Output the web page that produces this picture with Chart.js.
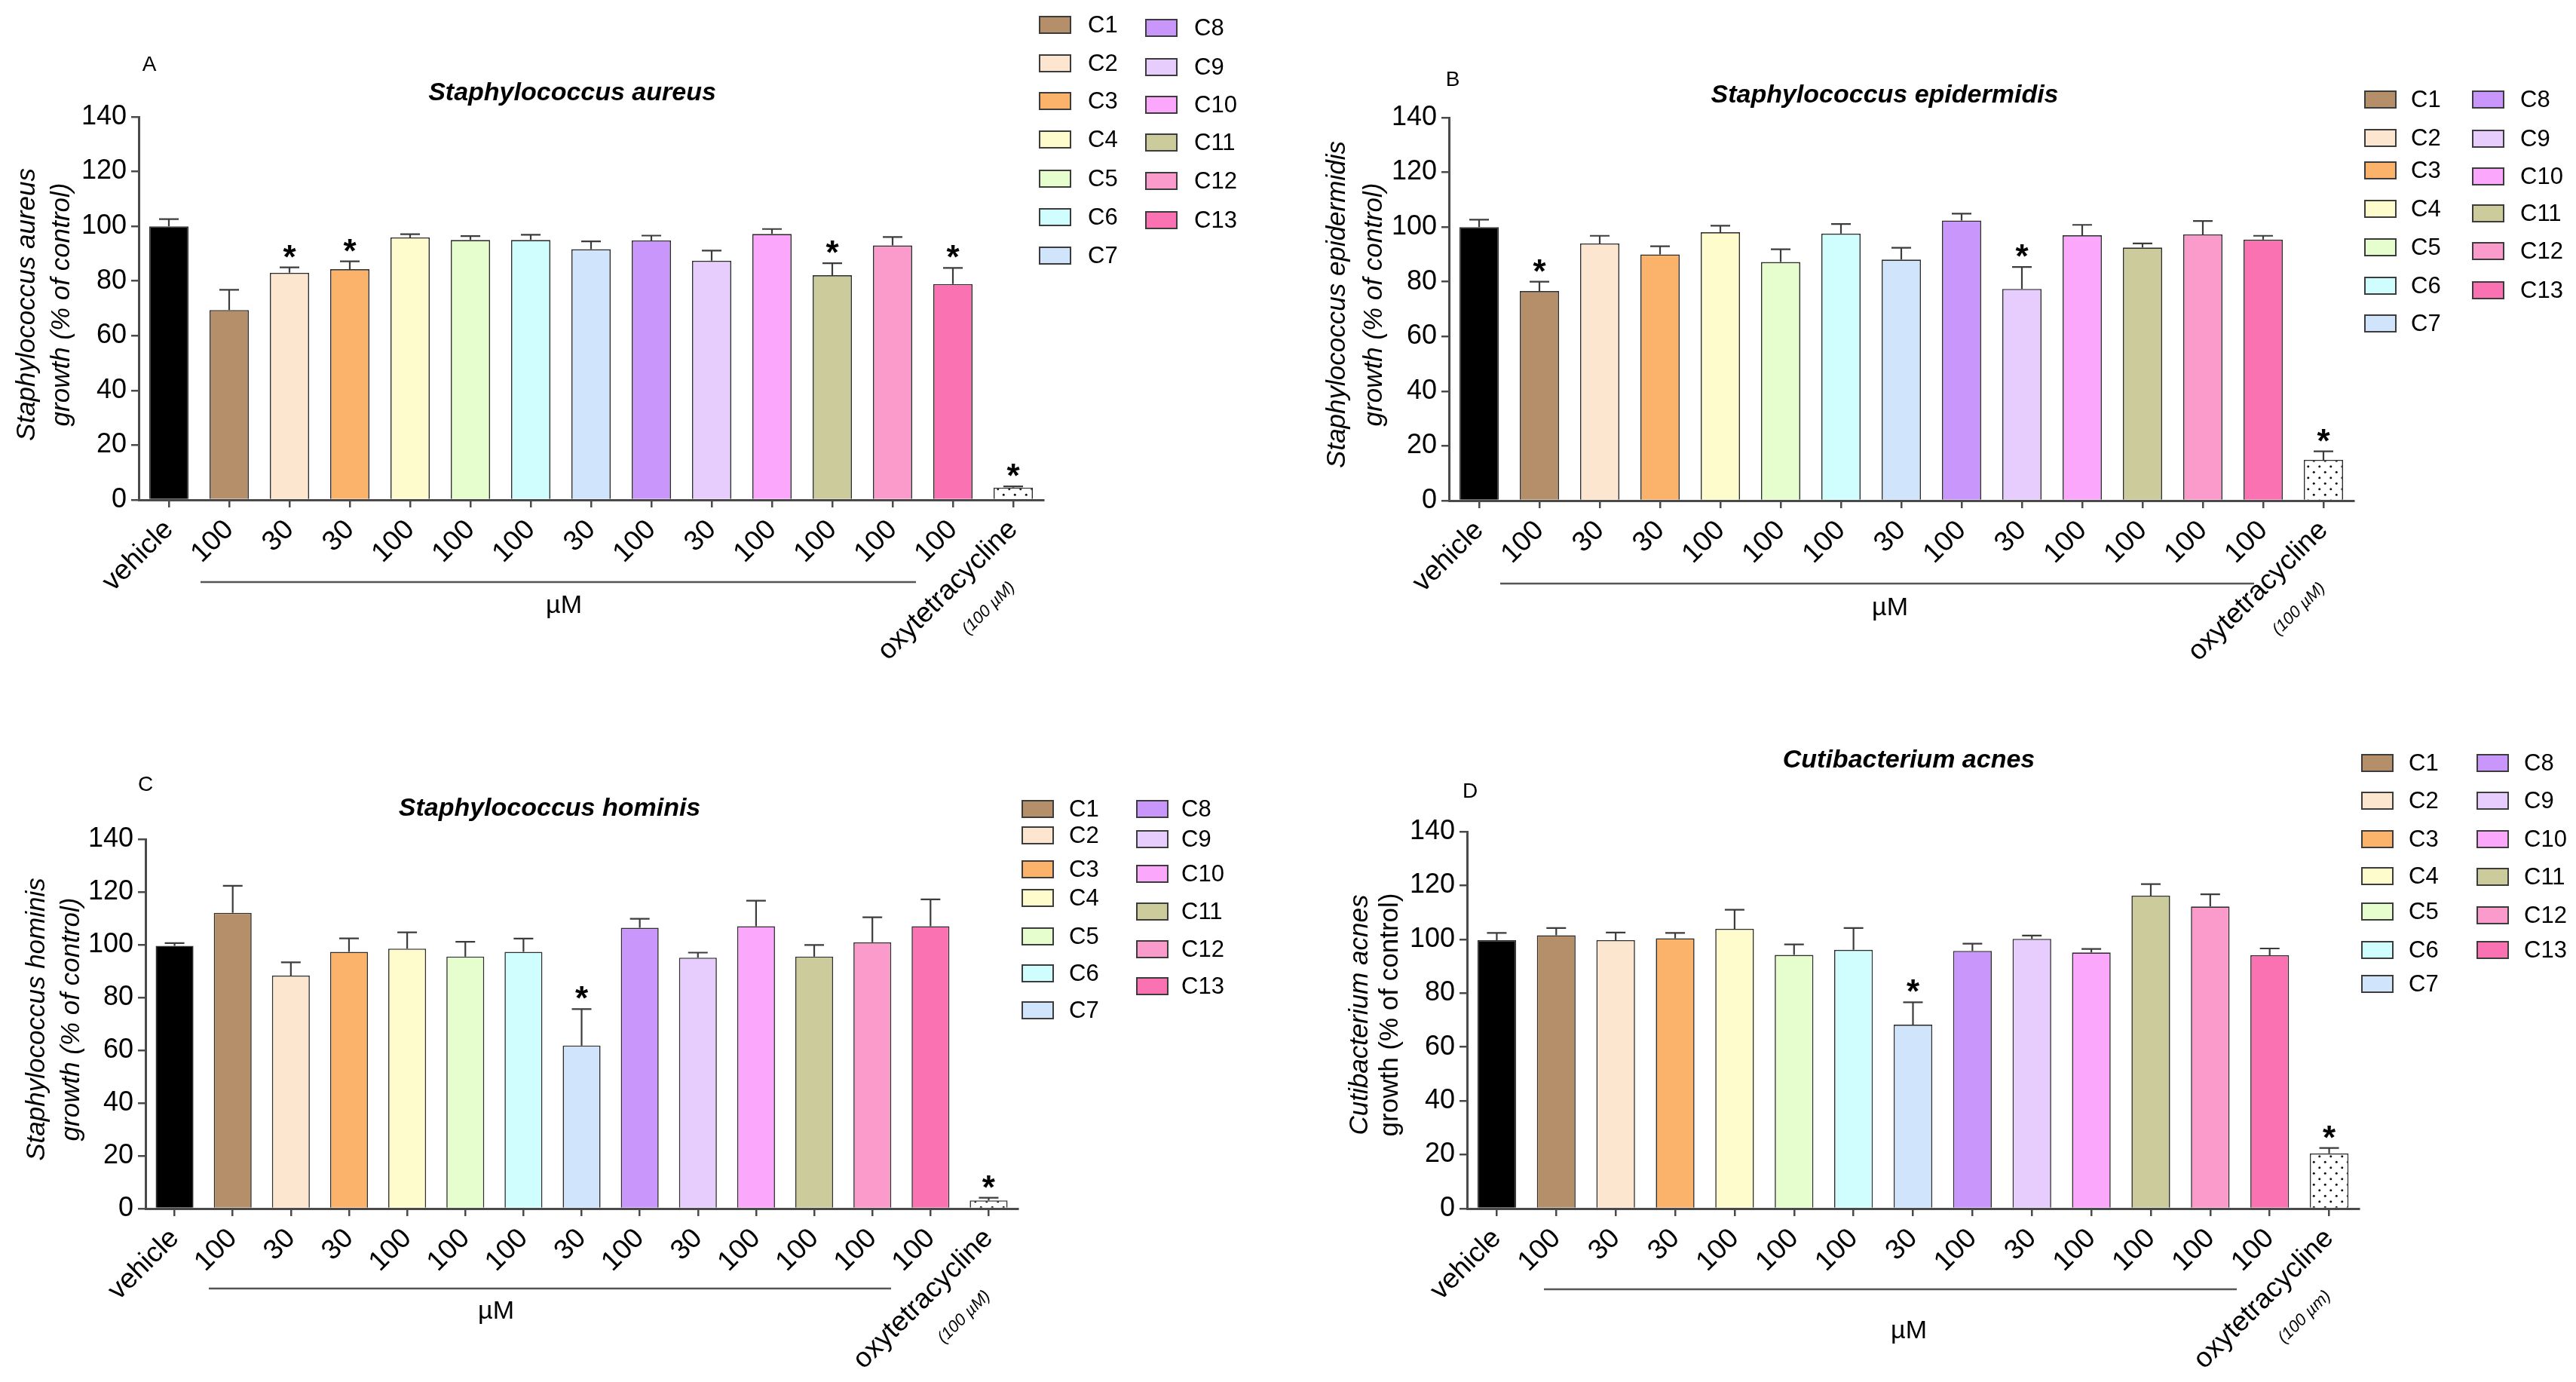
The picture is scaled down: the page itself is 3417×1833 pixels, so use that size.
<!DOCTYPE html>
<html>
<head>
<meta charset="utf-8">
<script src="https://cdn.jsdelivr.net/npm/chart.js@4.4.1/dist/chart.umd.min.js"></script>
<style>
  html, body { margin: 0; padding: 0; background: #fff; }
  #wrap { position: relative; width: 3417px; height: 1833px; overflow: hidden; }
  canvas { position: absolute; }
</style>
</head>
<body>
<div id="wrap">
  <canvas id="panelA" width="1708" height="900" style="left:0;top:0"></canvas>
  <canvas id="panelB" width="1709" height="900" style="left:1708px;top:0"></canvas>
  <canvas id="panelC" width="1708" height="933" style="left:0;top:900px"></canvas>
  <canvas id="panelD" width="1709" height="933" style="left:1708px;top:900px"></canvas>
</div>
<script>
// ---- data ----
const categories = ['vehicle', 'C1', 'C2', 'C3', 'C4', 'C5', 'C6', 'C7', 'C8', 'C9', 'C10', 'C11', 'C12', 'C13', 'oxytetracycline'];
const tickLabels = ['vehicle', '100', '30', '30', '100', '100', '100', '30', '100', '30', '100', '100', '100', '100', 'oxytetracycline'];
const compounds = ['C1', 'C2', 'C3', 'C4', 'C5', 'C6', 'C7', 'C8', 'C9', 'C10', 'C11', 'C12', 'C13'];

// mean and upper error (SEM) in % of control
const aureusMean = [100, 69.4, 83.0, 84.3, 95.9, 95.0, 95.0, 91.6, 94.8, 87.4, 97.2, 82.1, 93.0, 78.9, 4.5];
const aureusErr  = [2.6, 7.4, 2.0, 2.9, 1.2, 1.4, 1.9, 2.9, 1.8, 3.7, 1.8, 4.4, 3.1, 5.9, 0.4];
const aureusSig  = [0, 0, 1, 1, 0, 0, 0, 0, 0, 0, 0, 1, 0, 1, 1];

const epiMean = [100, 76.6, 94.0, 90.0, 98.1, 87.2, 97.6, 88.1, 102.4, 77.4, 97.0, 92.5, 97.3, 95.4, 14.9];
const epiErr  = [2.7, 3.4, 2.8, 3.0, 2.4, 4.7, 3.5, 4.3, 2.5, 8.0, 3.8, 1.5, 4.9, 1.4, 3.1];
const epiSig  = [0, 1, 0, 0, 0, 0, 0, 0, 0, 1, 0, 0, 0, 0, 1];

const hominisMean = [99.6, 112.1, 88.3, 97.3, 98.5, 95.5, 97.3, 61.8, 106.4, 95.1, 107.0, 95.5, 100.9, 107.0, 3.1];
const hominisErr  = [1.0, 10.2, 5.0, 5.1, 6.2, 5.6, 5.0, 13.8, 3.4, 1.9, 9.7, 4.4, 9.5, 10.2, 1.0];
const hominisSig  = [0, 0, 0, 0, 0, 0, 0, 1, 0, 0, 0, 0, 0, 0, 1];

const acnesMean = [99.7, 101.5, 99.7, 100.4, 103.9, 94.2, 96.1, 68.3, 95.7, 100.2, 95.1, 116.2, 112.2, 94.1, 20.5];
const acnesErr  = [2.7, 2.7, 2.8, 2.0, 7.1, 3.9, 8.1, 8.3, 2.7, 1.2, 1.3, 4.3, 4.5, 2.5, 2.0];
const acnesSig  = [0, 0, 0, 0, 0, 0, 0, 1, 0, 0, 0, 0, 0, 0, 1];

const compoundColors = ['#b58f6a', '#fde6cf', '#fbb36c', '#fefccc', '#e6fdcd', '#d0fdfd', '#d0e4fc',
                        '#c996fb', '#e6cdfd', '#fba7fb', '#cccb9b', '#fb9bcb', '#fb72b2'];

// ---- styling ----
const FONT = "'Liberation Sans', Arial, sans-serif";
const AXIS = '#4a4a4a';
const YW = 120;   // fixed width of the y axis box
const XH = 210;   // fixed height of the x axis box

Chart.defaults.font.family = FONT;
Chart.defaults.color = '#000';

// dotted fill for the oxytetracycline bar
function dotPattern() {
  const c = document.createElement('canvas');
  c.width = 15; c.height = 15;
  const g = c.getContext('2d');
  g.fillStyle = '#fff';
  g.fillRect(0, 0, 15, 15);
  g.fillStyle = '#111';
  [[3.75, 3.75], [11.25, 11.25]].forEach(([x, y]) => { g.beginPath(); g.arc(x, y, 1.5, 0, Math.PI * 2); g.fill(); });
  return g.createPattern(c, 'repeat');
}

const barColors = ['#000000'].concat(compoundColors, [dotPattern()]);

const panels = [
  {
    id: 'panelA', letter: 'A', title: 'Staphylococcus aureus',
    yTitle: ['Staphylococcus aureus', 'growth (% of control)'], yTitle2Italic: true,
    mean: aureusMean, err: aureusErr, sig: aureusSig, oxyNote: '(100 µM)',
    w: 1708, h: 900, left: 184, right: 1384, top: 155, bottom: 663,
    letterPos: [198, 86], titlePos: [759, 124], yTitleX: [36, 82], yTitleY: 404,
    bracket: { x0: 266, x1: 1215, y: 772, lx: 748, ly: 804 },
    legend: { c1: [1379, 1443], c2: [1520, 1584],
              y1: [33, 84, 134, 185, 237, 288, 339], y2: [37, 89, 139, 189, 240, 292] }
  },
  {
    id: 'panelB', letter: 'B', title: 'Staphylococcus epidermidis',
    yTitle: ['Staphylococcus epidermidis', 'growth (% of control)'], yTitle2Italic: true,
    mean: epiMean, err: epiErr, sig: epiSig, oxyNote: '(100 µM)',
    w: 1709, h: 900, left: 214, right: 1414, top: 156, bottom: 664,
    letterPos: [219, 106], titlePos: [792, 127], yTitleX: [66, 115], yTitleY: 404,
    bracket: { x0: 282, x1: 1282, y: 774, lx: 799, ly: 807 },
    legend: { c1: [1429, 1490], c2: [1572, 1635],
              y1: [132, 183, 226, 277, 328, 379, 429], y2: [132, 184, 234, 283, 333, 385] }
  },
  {
    id: 'panelC', letter: 'C', title: 'Staphylococcus hominis',
    yTitle: ['Staphylococcus hominis', 'growth (% of control)'], yTitle2Italic: true,
    mean: hominisMean, err: hominisErr, sig: hominisSig, oxyNote: '(100 µM)',
    w: 1708, h: 933, left: 193, right: 1350, top: 213, bottom: 703,
    letterPos: [193, 141], titlePos: [729, 173], yTitleX: [49, 95], yTitleY: 452,
    bracket: { x0: 277, x1: 1182, y: 809, lx: 658, ly: 840 },
    legend: { c1: [1356, 1418], c2: [1508, 1567],
              y1: [173, 208, 253, 291, 342, 391, 440], y2: [173, 213, 259, 309, 359, 408] }
  },
  {
    id: 'panelD', letter: 'D', title: 'Cutibacterium acnes',
    yTitle: ['Cutibacterium acnes', 'growth (% of control)'], yTitle2Italic: false,
    mean: acnesMean, err: acnesErr, sig: acnesSig, oxyNote: '(100 µm)',
    w: 1709, h: 933, left: 238, right: 1421, top: 203, bottom: 703,
    letterPos: [242, 150], titlePos: [824, 109], yTitleX: [96, 136], yTitleY: 446,
    bracket: { x0: 340, x1: 1259, y: 810, lx: 824, ly: 866 },
    legend: { c1: [1425, 1487], c2: [1578, 1640],
              y1: [112, 162, 213, 262, 309, 360, 405], y2: [112, 162, 213, 263, 314, 360] }
  }
];

// error bars, asterisks, titles, legend and the µM bracket
function decorations(p) {
  return {
    id: 'decor_' + p.id,
    afterDatasetsDraw(chart) {
      const ctx = chart.ctx;
      const ys = chart.scales.y;
      const bars = chart.getDatasetMeta(0).data;
      ctx.save();
      ctx.strokeStyle = '#3c3c3c';
      ctx.lineWidth = 2.2;
      ctx.fillStyle = '#000';
      ctx.font = 'bold 44px ' + FONT;
      ctx.textAlign = 'center';
      ctx.textBaseline = 'alphabetic';
      bars.forEach((bar, i) => {
        const top = ys.getPixelForValue(p.mean[i] + p.err[i]);
        ctx.beginPath();
        ctx.moveTo(bar.x, bar.y);
        ctx.lineTo(bar.x, top);
        ctx.moveTo(bar.x - 13, top);
        ctx.lineTo(bar.x + 13, top);
        ctx.stroke();
        // asterisk glyph centre sits about 24px above the cap
        if (p.sig[i]) ctx.fillText('*', bar.x, top + 1);
      });
      ctx.restore();
    },
    afterDraw(chart) {
      const ctx = chart.ctx;
      const xs = chart.scales.x;
      ctx.save();
      ctx.fillStyle = '#000';

      // panel letter
      ctx.font = '28px ' + FONT;
      ctx.textAlign = 'center';
      ctx.textBaseline = 'middle';
      ctx.fillText(p.letter, p.letterPos[0], p.letterPos[1]);

      // title
      ctx.font = 'italic bold 34px ' + FONT;
      ctx.fillText(p.title, p.titlePos[0], p.titlePos[1]);

      // y axis title
      [0, 1].forEach(k => {
        ctx.save();
        ctx.translate(p.yTitleX[k], p.yTitleY);
        ctx.rotate(-Math.PI / 2);
        ctx.font = (k === 0 || p.yTitle2Italic ? 'italic ' : '') + '35px ' + FONT;
        ctx.fillText(p.yTitle[k], 0, 0);
        ctx.restore();
      });

      // concentration bracket
      ctx.strokeStyle = '#555';
      ctx.lineWidth = 2.5;
      ctx.beginPath();
      ctx.moveTo(p.bracket.x0, p.bracket.y);
      ctx.lineTo(p.bracket.x1, p.bracket.y);
      ctx.stroke();
      ctx.font = '34px ' + FONT;
      ctx.fillText('µM', p.bracket.lx, p.bracket.ly);

      // note under the oxytetracycline label
      const last = categories.length - 1;
      ctx.save();
      ctx.translate(xs.getPixelForValue(last), xs.top + 18);
      ctx.rotate(-Math.PI / 4);
      ctx.font = 'italic 22px ' + FONT;
      ctx.fillText(p.oxyNote, -112, 66);
      ctx.restore();

      // legend, two columns
      ctx.font = '31px ' + FONT;
      ctx.textAlign = 'left';
      ctx.lineWidth = 2;
      ctx.strokeStyle = '#3c3c3c';
      compounds.forEach((name, i) => {
        const col = i < 7 ? p.legend.c1 : p.legend.c2;
        const y = i < 7 ? p.legend.y1[i] : p.legend.y2[i - 7];
        ctx.fillStyle = compoundColors[i];
        ctx.fillRect(col[0], y - 11, 41, 22);
        ctx.strokeRect(col[0], y - 11, 41, 22);
        ctx.fillStyle = '#000';
        ctx.fillText(name, col[1], y + 1);
      });
      ctx.restore();
    }
  };
}

panels.forEach(p => {
  new Chart(document.getElementById(p.id), {
    type: 'bar',
    data: {
      labels: tickLabels,
      datasets: [{
        data: p.mean,
        backgroundColor: barColors,
        borderColor: '#2e2e2e',
        borderWidth: 1.6,
        barPercentage: 0.65,
        categoryPercentage: 1
      }]
    },
    options: {
      responsive: false,
      animation: false,
      layout: {
        padding: { left: p.left - YW, right: p.w - p.right, top: p.top, bottom: p.h - p.bottom - XH }
      },
      scales: {
        x: {
          offset: true,
          grid: { offset: false, drawOnChartArea: false, drawTicks: true, tickLength: 10, color: AXIS, lineWidth: 2.5 },
          border: { color: AXIS, width: 3 },
          ticks: { autoSkip: false, minRotation: 45, maxRotation: 45, padding: 8, color: '#000', font: { size: 37 } },
          afterFit(scale) { scale.height = XH; }
        },
        y: {
          min: 0,
          max: 140,
          grid: { drawOnChartArea: false, drawTicks: true, tickLength: 10, color: AXIS, lineWidth: 2.5 },
          border: { color: AXIS, width: 3 },
          ticks: { stepSize: 20, padding: 6, color: '#000', font: { size: 36 } },
          afterFit(scale) { scale.width = YW; }
        }
      },
      plugins: { legend: { display: false }, tooltip: { enabled: false } }
    },
    plugins: [decorations(p)]
  });
});
</script>
</body>
</html>
